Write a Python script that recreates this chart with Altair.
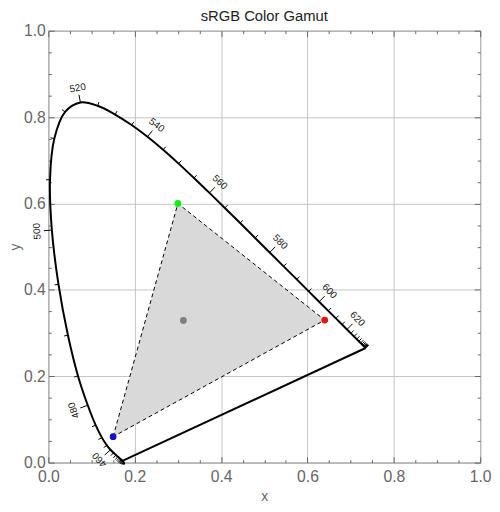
import math
import altair as alt
import pandas as pd

# CIE 1931 2-degree spectral locus (chromaticity x, y) at 5 nm steps
wavelengths = list(range(380, 705, 5))
locus_x = [0.1741, 0.1740, 0.1738, 0.1736, 0.1733, 0.1730, 0.1726, 0.1721, 0.1714, 0.1703,
           0.1689, 0.1669, 0.1644, 0.1611, 0.1566, 0.1510, 0.1440, 0.1355, 0.1241, 0.1096,
           0.0913, 0.0687, 0.0454, 0.0235, 0.0082, 0.0039, 0.0139, 0.0389, 0.0743, 0.1142,
           0.1547, 0.1929, 0.2296, 0.2658, 0.3016, 0.3373, 0.3731, 0.4087, 0.4441, 0.4788,
           0.5125, 0.5448, 0.5752, 0.6029, 0.6270, 0.6482, 0.6658, 0.6801, 0.6915, 0.7006,
           0.7079, 0.7140, 0.7190, 0.7230, 0.7260, 0.7283, 0.7300, 0.7311, 0.7320, 0.7327,
           0.7334, 0.7340, 0.7344, 0.7346, 0.7347]
locus_y = [0.0050, 0.0050, 0.0049, 0.0049, 0.0048, 0.0048, 0.0048, 0.0048, 0.0051, 0.0058,
           0.0069, 0.0086, 0.0109, 0.0138, 0.0177, 0.0227, 0.0297, 0.0399, 0.0578, 0.0868,
           0.1327, 0.2007, 0.2950, 0.4127, 0.5384, 0.6548, 0.7502, 0.8120, 0.8338, 0.8262,
           0.8059, 0.7816, 0.7543, 0.7243, 0.6923, 0.6589, 0.6245, 0.5896, 0.5547, 0.5202,
           0.4866, 0.4544, 0.4242, 0.3965, 0.3725, 0.3514, 0.3340, 0.3197, 0.3083, 0.2993,
           0.2920, 0.2859, 0.2809, 0.2770, 0.2740, 0.2717, 0.2700, 0.2689, 0.2680, 0.2673,
           0.2666, 0.2660, 0.2656, 0.2654, 0.2653]
label_wavelengths = [460, 480, 500, 520, 540, 560, 580, 600, 620]

# sRGB primaries and white point
primary_names = ["Red", "Green", "Blue", "White"]
primary_x = [0.64, 0.30, 0.15, 0.3127]
primary_y = [0.33, 0.60, 0.06, 0.3290]
primary_colors = ["#ee1111", "#11ee11", "#1111cc", "#808080"]
triangle_order = ["Blue", "Green", "Red", "Blue"]

major_ticks = [0.0, 0.2, 0.4, 0.6, 0.8, 1.0]
minor_ticks = [0.05, 0.1, 0.15, 0.25, 0.3, 0.35, 0.45, 0.5, 0.55, 0.65, 0.7, 0.75, 0.85, 0.9, 0.95]

PX = 439.0  # pixels per unit (plot size)
SHORT = 4 / PX
LONG = 8 / PX
LOFF = 15 / PX

# ---- build tables ----
n = len(wavelengths)
locus_df = pd.DataFrame({"wl": wavelengths, "x": locus_x, "y": locus_y, "o": list(range(n))})
purple_df = pd.DataFrame({"x": [locus_x[-1], locus_x[0]], "y": [locus_y[-1], locus_y[0]], "o": [0, 1]})

tick_rows, label_rows = [], []
for i in range(n):
    a, b = max(i - 1, 0), min(i + 1, n - 1)
    dx, dy = locus_x[b] - locus_x[a], locus_y[b] - locus_y[a]
    L = math.hypot(dx, dy) or 1.0
    nx, ny = -dy / L, dx / L
    labeled = wavelengths[i] in label_wavelengths
    tl = LONG if labeled else SHORT
    tick_rows.append({"x": locus_x[i], "y": locus_y[i],
                      "x2": locus_x[i] + nx * tl, "y2": locus_y[i] + ny * tl})
    if labeled:
        ang = math.degrees(math.atan2(-dy, dx)) % 360
        label_rows.append({"x": locus_x[i] + nx * LOFF, "y": locus_y[i] + ny * LOFF,
                           "t": str(wavelengths[i]), "a": ang})
tick_df = pd.DataFrame(tick_rows)
label_df = pd.DataFrame(label_rows)

prim_df = pd.DataFrame({"name": primary_names, "x": primary_x, "y": primary_y, "c": primary_colors})
tri_df = pd.DataFrame([{"x": primary_x[primary_names.index(k)], "y": primary_y[primary_names.index(k)], "o": j}
                       for j, k in enumerate(triangle_order)])

# ---- axes ----
FONT = "Liberation Sans"
GRAY = "#666666"
LBL = dict(labelFont=FONT, labelFontSize=16, labelColor=GRAY, format=".1f", labelFlush=False,
           titleFont=FONT, titleFontSize=14, titleColor=GRAY, titleFontWeight="normal")


def ax(orient, values, size, labels=False, grid=False, title=None, **kw):
    d = dict(orient=orient, values=values, tickSize=size, offset=-size, domain=False,
             tickColor=GRAY, tickWidth=1, grid=grid, labels=labels, title=title)
    if grid:
        d.update(gridColor="#c4c4c4", gridWidth=1)
    if labels:
        d.update(LBL)
    d.update(kw)
    return alt.Axis(**d)


sx = alt.Scale(domain=[0, 1], nice=False, zero=False)
sy = alt.Scale(domain=[0, 1], nice=False, zero=False)

tri = alt.Chart(tri_df).mark_line(fill="#d9d9d9", stroke="black", strokeWidth=1,
                                  strokeDash=[4, 3]).encode(
    x=alt.X("x:Q", scale=sx, axis=ax("bottom", major_ticks, 6, labels=True, grid=True, title="x",
                                     labelPadding=6, titlePadding=6)),
    y=alt.Y("y:Q", scale=sy, axis=ax("left", major_ticks, 6, labels=True, grid=True, title="y",
                                     labelPadding=3, titlePadding=1)),
    order="o:Q",
)

locus = alt.Chart(locus_df).mark_line(color="black", strokeWidth=2, interpolate="catmull-rom").encode(
    x=alt.X("x:Q", scale=sx, axis=ax("bottom", minor_ticks, 3)),
    y=alt.Y("y:Q", scale=sy, axis=ax("left", minor_ticks, 3)),
    order="o:Q",
)

purple = alt.Chart(purple_df).mark_line(color="black", strokeWidth=2).encode(
    x=alt.X("x:Q", scale=sx, axis=None),
    y=alt.Y("y:Q", scale=sy, axis=None),
    order="o:Q",
)

ticks = alt.Chart(tick_df).mark_rule(color="black", strokeWidth=1).encode(
    x=alt.X("x:Q", scale=sx, axis=ax("top", major_ticks, 6)),
    y=alt.Y("y:Q", scale=sy, axis=ax("right", major_ticks, 6)),
    x2="x2:Q", y2="y2:Q",
)

labels = alt.Chart(label_df).mark_text(font=FONT, fontSize=10, color="#1a1a1a",
                                       align="center", baseline="middle").encode(
    x=alt.X("x:Q", scale=sx, axis=ax("top", minor_ticks, 3)),
    y=alt.Y("y:Q", scale=sy, axis=ax("right", minor_ticks, 3)),
    text="t:N",
    angle=alt.Angle("a:Q", scale=None),
)

points = alt.Chart(prim_df).mark_circle(size=48, opacity=1).encode(
    x=alt.X("x:Q", scale=sx, axis=None),
    y=alt.Y("y:Q", scale=sy, axis=None),
    color=alt.Color("c:N", scale=None),
    tooltip=["name:N"],
)

chart = alt.layer(tri, locus, purple, ticks, labels, points).resolve_axis(
    x="independent", y="independent"
).properties(
    width=439, height=439,
    autosize=alt.AutoSizeParams(type="none"),
    padding={"left": 41, "top": 19, "right": 12, "bottom": 38},
    title=alt.TitleParams("sRGB Color Gamut", font=FONT, fontSize=15, fontWeight="normal",
                          color="#222222", offset=-1),
).configure_view(stroke=GRAY, strokeWidth=1)

chart.save("out.html", embed_options={"renderer": "svg", "actions": False})
